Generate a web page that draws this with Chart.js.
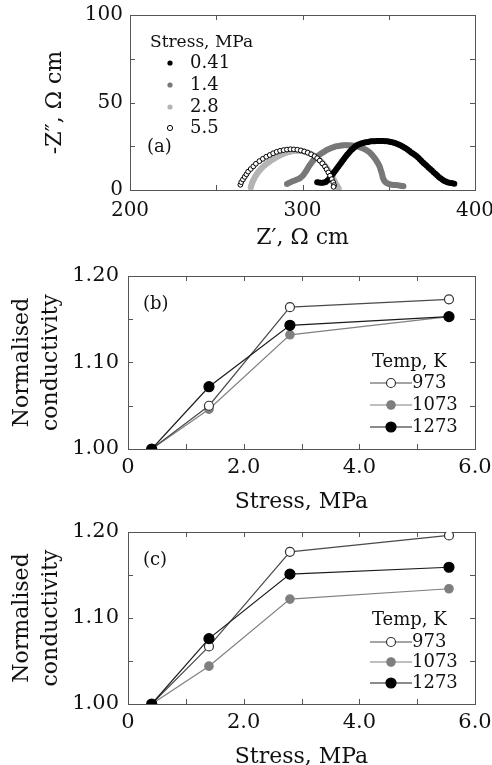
<!DOCTYPE html>
<html><head><meta charset="utf-8">
<script src="https://cdn.jsdelivr.net/npm/chart.js@4/dist/chart.umd.min.js"></script>
<style>
html,body{margin:0;padding:0;background:#fff;overflow:hidden;width:492px;height:765px}
canvas{position:absolute;left:0}
</style></head><body>
<canvas id="ca" width="492" height="255" style="top:0"></canvas>
<canvas id="cb" width="492" height="255" style="top:255px"></canvas>
<canvas id="cc" width="492" height="255" style="top:510px"></canvas>
<script>
// ---------- Panel (a): impedance spectra, [Z', -Z''] in ohm cm ----------
const stressLabels = ['0.41', '1.4', '2.8', '5.5'];
const nyq041 = [[308.5,4.5],[309.5,4.3],[310.5,4.2],[311.5,4.2],[312.5,4.3],[313.5,4.6],[314.5,5.4],[315.5,6.5],[316.3,7.5],[317,8.5],[317.8,9.5],[318.5,10.5],[319.3,11.5],[320,12.5],[320.8,13.5],[321.5,14.5],[322.3,15.5],[323,16.5],[323.8,17.5],[324.5,18.5],[325.3,19.4],[326,20.3],[326.8,21.2],[327.5,22],[328.3,22.8],[329,23.5],[329.8,24.2],[330.5,24.8],[331.3,25.3],[332,25.8],[333,26.2],[334,26.6],[335,26.9],[336,27.1],[337,27.3],[338,27.5],[339,27.7],[340,27.8],[341,27.9],[342,27.9],[343,28],[344,28],[345,28],[346,28],[347,28],[348,27.9],[349,27.8],[350,27.7],[351,27.5],[352,27.3],[353,27],[354,26.7],[355,26.3],[356,25.9],[357,25.4],[358,24.9],[359,24.3],[360,23.7],[361,23],[362,22.3],[363,21.5],[364,20.8],[365,20.2],[366,19.5],[367,18.6],[368,17.6],[369,16.6],[370,15.6],[371,14.7],[372,13.8],[373,12.9],[374,12],[375,11.1],[376,10.2],[377,9.3],[378,8.4],[379,7.5],[380,6.7],[381,6],[382,5.3],[383,4.9],[384,4.5],[385,4.2],[386,4],[387,3.8],[388,3.6]];
const nyq14 = [[291,3.5],[292,4],[293,4.5],[294.2,5],[295.5,5.5],[296.8,6],[298,6.5],[299,7.2],[300,8],[300.8,9],[301.5,10],[302.2,11],[302.8,12],[303.4,13],[304,14],[304.8,15],[305.5,16],[306.2,16.9],[307,17.8],[308,18.7],[309,19.5],[310,20.3],[311,21],[312,21.6],[313,22.2],[314,22.8],[315,23.3],[316,23.7],[317,24.1],[318,24.5],[319,24.8],[320,25],[321,25.2],[322,25.4],[323,25.5],[324,25.6],[325,25.6],[326,25.6],[327,25.6],[328,25.5],[329,25.4],[330,25.3],[331,25.1],[332,24.9],[333,24.6],[334,24.2],[335,23.8],[336,23.3],[337,22.8],[338,22.1],[339,21.4],[339.8,20.6],[340.5,19.8],[341.3,18.9],[342,18],[342.7,17],[343.3,16],[344,14.9],[344.5,13.8],[345,12.7],[345.3,11.6],[345.7,10.5],[346,9.4],[346.3,8.3],[346.5,7.2],[347,6.2],[347.5,5.2],[348.2,4.5],[349,3.8],[350,3.5],[351,3.2],[352,3],[353,2.9],[354,2.8],[355,2.7],[356,2.6],[357,2.5],[358,2.3],[358.5,2.2]];
const nyq28 = [[270,1.5],[270.2,2.2],[270.5,3],[270.7,3.8],[271,4.5],[271.4,5.4],[271.8,6.2],[272.3,7.1],[272.8,8],[273.4,8.9],[274,9.8],[274.7,10.7],[275.5,11.6],[276.2,12.4],[277,13.2],[278,14],[279,14.8],[280,15.6],[281,16.3],[282,17],[283,17.6],[284,18.2],[285,18.8],[286,19.3],[287,19.8],[288,20.3],[289,20.7],[290,21.1],[291,21.4],[292,21.7],[293,21.9],[294,22.1],[295,22.3],[296,22.4],[297,22.5],[298,22.5],[299,22.4],[300,22.2],[301,22],[302,21.7],[303,21.4],[304,21],[305,20.5],[306,20],[307,19.4],[308,18.7],[309,18],[309.8,17.3],[310.5,16.6],[311.3,15.8],[312,15],[312.8,14.1],[313.5,13.2],[314.3,12.2],[315,11.2],[315.7,10.2],[316.3,9.2],[317,8.2],[317.5,7.2],[318,6.2],[318.5,5.2],[319,4.2],[319.5,3.3],[320,2.5],[320.3,1.8],[320.7,1.2],[321,0.8]];
const nyq55 = [[264,3],[264.5,4.5],[265.5,6],[266.5,7.5],[267.5,9],[268.5,10.5],[270,12],[271.5,13.5],[273,15],[275,16.5],[277,17.8],[279,19],[281,20],[283,21],[285,21.8],[287,22.4],[289,22.8],[291,23.1],[293,23.3],[295,23.2],[297,23],[299,22.6],[301,22],[303,21.3],[305,20.4],[307,19.3],[308.5,18.2],[310,16.8],[311.5,15.2],[313,13.4],[314,11.8],[315,10],[316,8.2],[317,6.2],[317.8,4.4],[318.3,2.8],[318,1.8]];
const aXLabelTicks = [200, 300, 400];
const aXMarks = [250, 300, 350];
const aYLabelTicks = [0, 50, 100];
const aYMarks = [25, 50, 75];

// ---------- Panels (b) and (c): normalised conductivity vs stress ----------
const tempLabels = ['973', '1073', '1273'];
const stressMPa = [0.41, 1.4, 2.8, 5.55];
const condB973 = [1.000, 1.050, 1.164, 1.173];
const condB1073 = [1.000, 1.046, 1.132, 1.153];
const condB1273 = [1.000, 1.072, 1.143, 1.153];
const condC973 = [1.000, 1.067, 1.177, 1.196];
const condC1073 = [1.000, 1.044, 1.122, 1.134];
const condC1273 = [1.000, 1.076, 1.151, 1.159];
const bcXLabelTicks = [0, 2, 4, 6];
const bcXMarks = [1, 2, 3, 4, 5];
const bcYLabelTicks = [1.00, 1.10, 1.20];
const bcYMarks = [1.05, 1.10, 1.15];

const FONT = 'DejaVu Serif';
const TXT = '#111111';

const toPts = arr => arr.map(p => ({x: p[0], y: p[1]}));
const zipPts = (xs, ys) => xs.map((x, i) => ({x, y: ys[i]}));

const frameTicks = {
  id: 'frameTicks',
  beforeDatasetsDraw(chart, args, o) {
    const {ctx, chartArea: a, scales: {x, y}} = chart;
    ctx.save();
    ctx.strokeStyle = o.color; ctx.lineWidth = 1;
    ctx.beginPath();
    for (const v of o.xMarks) {
      const px = Math.round(x.getPixelForValue(v)) + 0.5;
      ctx.moveTo(px, a.bottom); ctx.lineTo(px, a.bottom - o.len);
      ctx.moveTo(px, a.top); ctx.lineTo(px, a.top + o.len);
    }
    for (const v of o.yMarks) {
      const py = Math.round(y.getPixelForValue(v)) + 0.5;
      ctx.moveTo(a.left, py); ctx.lineTo(a.left + o.len, py);
      ctx.moveTo(a.right, py); ctx.lineTo(a.right - o.len, py);
    }
    ctx.stroke();
    ctx.strokeRect(Math.round(a.left) + 0.5, Math.round(a.top) + 0.5, Math.round(a.right - a.left), Math.round(a.bottom - a.top));
    ctx.restore();
  }
};

const panelLegend = {
  id: 'panelLegend',
  afterDatasetsDraw(chart, args, o) {
    const {ctx, chartArea: a} = chart;
    ctx.save();
    ctx.textBaseline = 'middle'; ctx.textAlign = 'left';
    ctx.fillStyle = TXT;
    ctx.font = o.titleFont;
    ctx.fillText(o.title, a.left + o.titleX, a.top + o.titleY);
    o.rows.forEach((dy, i) => {
      const ds = chart.data.datasets[i];
      const cy = a.top + dy;
      if (o.lineFrom != null) {
        ctx.beginPath();
        ctx.strokeStyle = ds.borderColor; ctx.lineWidth = ds.borderWidth;
        ctx.moveTo(a.left + o.lineFrom, cy); ctx.lineTo(a.left + o.lineTo, cy);
        ctx.stroke();
      }
      ctx.beginPath();
      ctx.arc(a.left + o.markerX, cy, o.markerR || ds.pointRadius, 0, Math.PI * 2);
      ctx.fillStyle = ds.pointBackgroundColor; ctx.fill();
      ctx.lineWidth = ds.pointBorderWidth; ctx.strokeStyle = ds.pointBorderColor;
      if (ds.pointBorderWidth > 0) ctx.stroke();
      ctx.fillStyle = TXT; ctx.font = o.itemFont;
      ctx.fillText(ds.label, a.left + o.textX, cy);
    });
    ctx.font = o.tagFont;
    ctx.fillText(o.tag, a.left + o.tagX, a.top + o.tagY);
    ctx.restore();
  }
};

function axisX(min, max, labelTicks, fmt, h, title, titlePad, tickPad, tickSize) {
  return {
    type: 'linear', min, max,
    afterBuildTicks: s => { s.ticks = labelTicks.map(v => ({value: v})); },
    afterFit: s => { s.height = h; s.paddingLeft = 0; s.paddingRight = 0; },
    grid: {display: false, drawTicks: false},
    border: {display: false},
    ticks: {font: {family: FONT, size: tickSize}, color: TXT, padding: tickPad, maxRotation: 0, autoSkip: false, callback: fmt},
    title: {display: true, text: title, font: {family: FONT, size: 22, lineHeight: 1}, color: TXT, padding: {top: 0, bottom: titlePad}}
  };
}
function axisY(min, max, labelTicks, fmt, w, title, titleFont, titlePad, tickPad, tickSize) {
  return {
    type: 'linear', min, max,
    afterBuildTicks: s => { s.ticks = labelTicks.map(v => ({value: v})); },
    afterFit: s => { s.width = w; s.paddingTop = 0; s.paddingBottom = 0; },
    grid: {display: false, drawTicks: false},
    border: {display: false},
    ticks: {font: {family: FONT, size: tickSize}, color: TXT, padding: tickPad, autoSkip: false, callback: fmt},
    title: {display: true, text: title, font: titleFont, color: TXT, padding: {top: titlePad, bottom: 0}}
  };
}

Chart.defaults.animation = false;
Chart.defaults.events = [];

// ----- Panel (a) -----
const nyqSets = [nyq041, nyq14, nyq28, nyq55];
const nyqFill = ['#000000', '#787878', '#b4b4b4', '#ffffff'];
const nyqEdge = ['#000000', '#787878', '#b4b4b4', '#000000'];
const nyqOrder = [1, 2, 3, 0];
new Chart(document.getElementById('ca'), {
  type: 'scatter',
  data: {
    datasets: nyqSets.map((d, i) => ({
      label: stressLabels[i], data: toPts(d), showLine: false, order: nyqOrder[i],
      pointRadius: i === 3 ? 2.4 : 3, pointBackgroundColor: nyqFill[i], pointBorderColor: nyqEdge[i],
      pointBorderWidth: i === 3 ? 1 : 0
    }))
  },
  options: {
    responsive: false,
    layout: {padding: {top: 15, left: 0, right: 17, bottom: 0}},
    plugins: {
      legend: {display: false}, tooltip: {enabled: false},
      frameTicks: {color: '#555', len: 5, xMarks: aXMarks, yMarks: aYMarks},
      panelLegend: {title: 'Stress, MPa', titleFont: '17px "DejaVu Serif"', titleX: 20, titleY: 28,
        itemFont: '18px "DejaVu Serif"', rows: [48, 70, 92, 113], markerX: 40, markerR: 2.6, textX: 60,
        tag: '(a)', tagFont: '18px "DejaVu Serif"', tagX: 17, tagY: 132}
    },
    scales: {
      x: axisX(200, 400, aXLabelTicks, v => String(v), 65, 'Z′, Ω cm', 6, 9, 20),
      y: axisY(0, 100, aYLabelTicks, v => String(v), 130, '-Z″, Ω cm', {family: FONT, size: 22, lineHeight: 1}, 44, 7, 20)
    }
  },
  plugins: [frameTicks, panelLegend]
});

// ----- Panels (b), (c) -----
const tFill = ['#ffffff', '#7f7f7f', '#000000'];
const tEdge = ['#333333', '#7f7f7f', '#000000'];
const tLine = ['#4a4a4a', '#808080', '#1a1a1a'];
const tRad = [4.5, 4.2, 5];
const tOrder = [1, 2, 0];
function condChart(id, series, tag, legendRows, legendTitleY) {
  new Chart(document.getElementById(id), {
    type: 'scatter',
    data: {
      datasets: series.map((ys, i) => ({
        label: tempLabels[i], data: zipPts(stressMPa, ys), showLine: true, order: tOrder[i],
        borderColor: tLine[i], borderWidth: 1.2,
        pointRadius: tRad[i], pointBackgroundColor: tFill[i], pointBorderColor: tEdge[i], pointBorderWidth: 1.2
      }))
    },
    options: {
      responsive: false,
      layout: {padding: {top: id === 'cb' ? 21 : 22, left: 0, right: 17, bottom: 0}},
      plugins: {
        legend: {display: false}, tooltip: {enabled: false},
        frameTicks: {color: '#555', len: 5, xMarks: bcXMarks, yMarks: bcYMarks},
        panelLegend: {title: 'Temp, K', titleFont: '18px "DejaVu Serif"', titleX: 244, titleY: legendTitleY,
          itemFont: '18px "DejaVu Serif"', rows: legendRows, lineFrom: 242, lineTo: 284, markerX: 263, textX: 284,
          tag: tag, tagFont: '18px "DejaVu Serif"', tagX: 15, tagY: 28}
      },
      scales: {
        x: axisX(0, 6, bcXLabelTicks, v => v === 0 ? '0' : v.toFixed(1), 61, 'Stress, MPa', -3, 6, 21),
        y: axisY(1.0, 1.2, bcYLabelTicks, v => v.toFixed(2), 128, ['Normalised', 'conductivity'], {family: FONT, size: 22, lineHeight: 1.3}, 8, 9, 21)
      }
    },
    plugins: [frameTicks, panelLegend]
  });
}
condChart('cb', [condB973, condB1073, condB1273], '(b)', [107, 129, 151], 86);
condChart('cc', [condC973, condC1073, condC1273], '(c)', [110, 130, 151], 88);
</script>
</body></html>
